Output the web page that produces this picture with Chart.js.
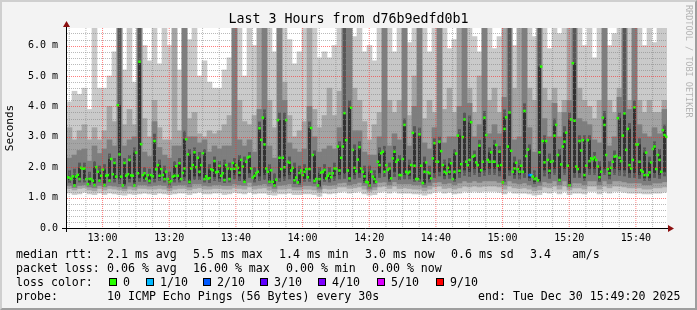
<!DOCTYPE html>
<html lang="en">
<head>
<meta charset="UTF-8">
<title>Last 3 Hours from d76b9edfd0b1</title>
<script src="https://cdn.jsdelivr.net/npm/chart.js@4.4.1/dist/chart.umd.min.js"></script>
<style>
  body { margin: 0; background: #f3f3f3; }
  #frame { position: relative; width: 697px; height: 310px; background: #f3f3f3; overflow: hidden;
           font-family: 'DejaVu Sans Mono', monospace; color: #000; }
  #frame::after { content: ''; position: absolute; left: 0; top: 0; right: 0; bottom: 0; pointer-events: none;
           border-top: 2px solid #cfcfcf; border-left: 2px solid #cfcfcf;
           border-right: 2px solid #9e9e9e; border-bottom: 2px solid #9e9e9e; }
  canvas { position: absolute; left: 0; top: 0; }
  #title { position: absolute; left: 0; top: 11px; width: 697px; text-align: center; font-size: 13.3px; line-height: 16px; }
  #mark { position: absolute; left: 684px; top: 5px; writing-mode: vertical-rl; font-size: 8.5px; color: #b4b4b4; white-space: pre; }
  .t { position: absolute; white-space: pre; font-size: 11.6px; line-height: 14px; }
  .box { position: absolute; width: 6px; height: 6px; border: 1px solid #000; }
</style>
</head>
<body>
<div id="frame">
  <canvas id="smoke" width="697" height="310"></canvas>
  <div id="title">Last 3 Hours from d76b9edfd0b1</div>
  <div id="mark">RRDTOOL / TOBI OETIKER</div>

  <div class="t" style="left:16px;top:247px">median rtt:</div>
  <div class="t" style="left:107px;top:247px">2.1 ms avg</div>
  <div class="t" style="left:193px;top:247px">5.5 ms max</div>
  <div class="t" style="left:279px;top:247px">1.4 ms min</div>
  <div class="t" style="left:365px;top:247px">3.0 ms now</div>
  <div class="t" style="left:451px;top:247px">0.6 ms sd</div>
  <div class="t" style="left:530px;top:247px">3.4   am/s</div>

  <div class="t" style="left:16px;top:261px">packet loss:</div>
  <div class="t" style="left:107px;top:261px">0.06 % avg</div>
  <div class="t" style="left:193px;top:261px">16.00 % max</div>
  <div class="t" style="left:286px;top:261px">0.00 % min</div>
  <div class="t" style="left:372px;top:261px">0.00 % now</div>

  <div class="t" style="left:16px;top:275px">loss color:</div>
  <div id="lossLegend"></div>

  <div class="t" style="left:16px;top:289px">probe:</div>
  <div class="t" style="left:107px;top:289px">10 ICMP Echo Pings (56 Bytes) every 30s</div>
  <div class="t" style="left:478px;top:289px">end: Tue Dec 30 15:49:20 2025</div>
</div>

<script>
// median rtt (ms), one value per 30 s step, 12:49:20 .. 15:49:20
const med = [
  1.67,1.65,1.61,1.7,1.4,1.69,1.75,1.61,1.98,1.95, 1.96,1.61,1.44,1.61,1.61,1.55,1.41,2.0,1.85,1.56,
  1.72,1.92,1.41,1.72,1.74,1.56,2.27,1.77,2.14,1.69, 4.04,2.42,1.69,1.4,2.14,1.72,1.77,2.24,1.73,1.72,
  1.4,2.48,1.8,5.47,2.76,1.74,1.8,1.62,1.74,1.55, 1.74,1.7,2.86,1.93,2.07,1.72,1.94,1.74,1.61,1.85,
  1.61,1.51,1.55,1.69,1.72,2.03,1.72,2.13,1.61,1.81, 1.96,2.92,2.42,1.52,1.96,2.07,2.49,2.0,2.31,1.85,
  2.07,2.46,1.61,1.7,1.62,1.64,1.93,1.9,2.2,1.83, 1.85,2.04,1.72,1.8,1.58,2.07,1.96,1.61,1.94,2.14,
  1.95,2.07,1.98,1.82,2.24,2.02,1.52,2.18,2.32,2.35, 1.96,1.66,1.72,1.8,1.85,3.28,2.9,3.63,2.75,1.96,
  1.85,1.52,1.9,1.52,1.4,1.59,3.55,2.31,1.94,2.31, 2.0,3.55,2.18,2.15,1.89,1.98,1.57,1.66,1.5,1.81,
  1.89,1.74,1.85,1.94,1.67,1.94,3.29,2.4,1.55,1.61, 1.4,1.61,1.82,1.85,1.91,1.63,1.72,1.79,1.67,1.8,
  1.96,1.96,2.68,1.89,2.31,2.68,3.78,2.89,1.89,1.63, 3.96,2.57,1.98,1.87,2.25,2.66,1.96,1.85,1.7,1.52,
  1.5,1.4,1.85,1.69,1.61,1.52,2.18,2.07,2.46,2.51, 1.85,2.07,1.91,1.96,1.63,2.29,2.51,2.18,2.24,1.74,
  1.74,2.27,3.39,1.85,1.8,1.85,2.07,3.13,2.05,1.61, 1.61,3.08,2.05,1.48,1.85,2.16,1.83,1.8,1.63,2.29,
  2.79,2.18,2.18,2.84,2.53,2.07,1.85,1.8,1.98,1.85, 2.13,1.61,1.85,2.45,3.04,1.88,2.1,2.99,3.57,2.18,
  2.07,2.24,3.48,2.35,2.38,2.16,2.07,2.71,1.9,2.18, 3.63,3.06,2.24,2.18,2.49,2.18,2.18,2.73,2.05,2.51,
  2.07,1.5,3.26,3.64,2.68,3.8,2.54,1.85,1.96,2.15, 1.94,1.85,2.05,1.85,3.85,2.37,2.58,1.74,1.74,1.69,
  1.61,1.63,1.57,2.49,5.31,2.86,2.16,2.86,2.24,1.88, 2.18,2.2,3.04,3.39,2.4,1.58,2.09,2.68,2.84,3.14,
  2.05,1.41,3.57,5.42,3.53,2.02,1.94,2.86,2.55,2.89, 1.74,2.05,2.89,2.2,2.29,2.26,2.32,2.24,2.02,1.67,
  1.85,3.63,3.39,2.4,1.94,1.8,1.98,2.18,2.35,2.37, 3.61,2.31,2.2,3.04,3.77,2.57,3.26,2.07,1.96,2.24,
  3.97,2.75,2.75,2.18,1.9,1.85,1.74,2.48,1.74,1.83, 2.16,2.6,2.68,1.94,2.4,2.24,1.85,3.22,3.06,3.0
];

// steps that lost pings, and how many of 10
const lossStep = [277, 278];
const lossLevel = [2, 1];
const lossColors = ['#26ff00', '#00b8ff', '#0059ff', '#5e00ff', '#7e00ff', '#dd00ff', '#ff0000'];
const lossLabels = ['0', '1/10', '2/10', '3/10', '4/10', '5/10', '9/10'];

// smoke: sorted ping rtt (ms) per 90 s slot, p1 = fastest ... p10 = slowest
const p1 = [
  1.15,1.1,1.12,1.18,1.12,1.1,1.15,1.1,1.15,1.12, 1.1,1.08,1.12,1.1,1.12,1.15,1.12,1.1,1.15,1.12,
  1.1,1.12,1.15,1.15,1.1,1.15,1.18,1.12,1.12,1.15, 1.15,1.1,1.12,1.18,1.15,1.12,1.18,1.12,1.15,1.15,
  1.1,1.08,1.12,1.12,1.15,1.1,1.1,1.12,1.12,1.1, 1.05,1.15,1.12,1.15,1.18,1.2,1.15,1.18,1.2,1.12,
  1.08,1.1,1.18,1.2,1.15,1.2,1.15,1.15,1.15,1.12, 1.12,1.08,1.12,1.18,1.2,1.15,1.18,1.12,1.15,1.2,
  1.18,1.2,1.18,1.2,1.2,1.2,1.18,1.12,1.2,1.15, 1.15,1.15,1.12,1.08,1.1,1.18,1.15,1.2,1.12,1.2,
  1.1,1.15,1.15,1.12,1.2,1.2,1.12,1.2,1.15,1.2, 1.2,1.18,1.15,1.15,1.15,1.12,1.12,1.15,1.15,1.18
];
const p2 = [
  1.3,1.25,1.3,1.32,1.25,1.22,1.3,1.25,1.3,1.28, 1.25,1.22,1.28,1.25,1.3,1.3,1.28,1.28,1.3,1.28,
  1.22,1.28,1.3,1.3,1.25,1.3,1.32,1.28,1.28,1.3, 1.3,1.28,1.28,1.32,1.3,1.28,1.35,1.28,1.3,1.32,
  1.25,1.2,1.28,1.28,1.3,1.25,1.25,1.28,1.28,1.25, 1.18,1.3,1.28,1.3,1.35,1.35,1.3,1.32,1.35,1.28,
  1.2,1.25,1.35,1.38,1.3,1.38,1.3,1.32,1.3,1.28, 1.28,1.22,1.28,1.35,1.38,1.3,1.32,1.28,1.32,1.38,
  1.35,1.38,1.35,1.38,1.38,1.38,1.35,1.28,1.38,1.32, 1.3,1.32,1.28,1.22,1.25,1.35,1.32,1.38,1.28,1.38,
  1.25,1.32,1.32,1.28,1.38,1.38,1.28,1.38,1.32,1.38, 1.38,1.35,1.32,1.32,1.32,1.28,1.28,1.32,1.32,1.35
];
const p3 = [
  1.4,1.33,1.4,1.42,1.35,1.32,1.4,1.35,1.4,1.38, 1.35,1.3,1.38,1.35,1.42,1.42,1.38,1.4,1.42,1.4,
  1.32,1.4,1.42,1.42,1.35,1.45,1.45,1.4,1.38,1.42, 1.42,1.4,1.4,1.45,1.42,1.4,1.5,1.4,1.42,1.45,
  1.38,1.3,1.4,1.42,1.45,1.35,1.35,1.4,1.4,1.38, 1.28,1.42,1.4,1.42,1.48,1.5,1.42,1.45,1.5,1.4,
  1.28,1.35,1.5,1.52,1.42,1.52,1.45,1.45,1.45,1.42, 1.42,1.34,1.4,1.5,1.52,1.45,1.48,1.42,1.48,1.55,
  1.5,1.55,1.5,1.55,1.55,1.55,1.5,1.42,1.55,1.48, 1.45,1.48,1.42,1.35,1.4,1.52,1.48,1.55,1.42,1.55,
  1.35,1.48,1.48,1.42,1.55,1.55,1.42,1.55,1.45,1.55, 1.55,1.52,1.48,1.48,1.48,1.42,1.42,1.48,1.48,1.52
];
const p4 = [
  1.48,1.4,1.5,1.5,1.42,1.4,1.5,1.42,1.5,1.5, 1.45,1.38,1.5,1.42,1.52,1.52,1.46,1.5,1.55,1.5,
  1.4,1.5,1.5,1.55,1.45,1.58,1.58,1.5,1.48,1.55, 1.52,1.48,1.5,1.6,1.55,1.48,1.65,1.5,1.55,1.58,
  1.46,1.36,1.52,1.55,1.6,1.45,1.42,1.52,1.52,1.46, 1.34,1.52,1.5,1.55,1.6,1.62,1.52,1.6,1.65,1.48,
  1.34,1.45,1.65,1.68,1.52,1.68,1.58,1.6,1.6,1.52, 1.52,1.42,1.5,1.65,1.7,1.6,1.62,1.52,1.65,1.72,
  1.68,1.75,1.68,1.72,1.75,1.75,1.7,1.52,1.72,1.62, 1.6,1.65,1.55,1.45,1.5,1.7,1.62,1.75,1.52,1.75,
  1.42,1.65,1.65,1.55,1.75,1.75,1.52,1.75,1.6,1.75, 1.72,1.7,1.65,1.65,1.62,1.55,1.55,1.65,1.62,1.7
];
const p5 = [
  1.58,1.45,1.6,1.6,1.5,1.48,1.58,1.48,1.6,1.62, 1.6,1.45,1.62,1.5,1.65,1.6,1.52,1.62,1.65,1.58,
  1.48,1.6,1.58,1.68,1.5,1.7,1.7,1.58,1.58,1.68, 1.62,1.55,1.58,1.75,1.7,1.55,1.8,1.6,1.7,1.75,
  1.52,1.4,1.65,1.7,1.75,1.52,1.48,1.62,1.62,1.52, 1.38,1.6,1.6,1.7,1.75,1.78,1.6,1.75,1.8,1.55,
  1.38,1.5,1.8,1.8,1.6,1.85,1.7,1.75,1.72,1.6, 1.6,1.48,1.6,1.8,1.85,1.72,1.75,1.6,1.8,1.9,
  1.85,1.95,1.82,1.9,1.95,1.95,1.88,1.6,1.9,1.75, 1.75,1.8,1.65,1.52,1.55,1.9,1.78,1.95,1.58,1.95,
  1.45,1.8,1.8,1.65,1.95,1.95,1.6,1.95,1.72,1.95, 1.9,1.9,1.8,1.8,1.75,1.65,1.65,1.8,1.75,1.85
];
const p6 = [
  1.67,1.7,1.98,1.96,1.61,2.0,1.85,1.92,2.27,2.14, 4.04,2.14,2.24,2.48,5.47,1.8,1.74,2.86,2.07,1.85,
  1.61,2.03,2.13,2.92,2.42,2.49,2.31,2.46,1.93,2.2, 2.04,2.07,1.96,2.14,2.24,2.18,2.35,1.8,3.28,3.63,
  1.9,1.59,3.55,3.55,2.18,1.98,1.89,1.94,3.29,2.4, 1.82,1.91,1.79,1.96,2.68,3.78,3.96,2.57,2.66,1.85,
  1.85,1.69,2.46,2.51,1.96,2.51,2.24,3.39,2.07,3.13, 3.08,2.16,1.83,2.79,2.84,2.07,2.13,2.45,3.04,3.57,
  3.48,2.38,2.71,3.63,2.49,2.73,2.51,3.64,3.8,2.15, 2.05,3.85,2.58,1.69,5.31,2.86,2.24,3.39,2.4,3.14,
  3.57,5.42,2.86,2.89,2.89,2.32,2.02,3.63,1.98,2.37, 3.61,3.77,3.26,3.97,2.75,2.48,2.16,2.68,2.4,3.22
];
const p7 = [
  1.9,1.95,2.15,2.15,1.85,2.2,2.05,2.1,2.45,2.3, 6.6,2.3,2.4,2.65,6.6,2.0,1.95,3.1,2.25,2.05,
  1.85,2.2,2.3,3.2,2.6,2.65,2.5,2.6,2.1,2.35, 2.2,2.25,2.15,2.3,2.4,2.35,2.5,2.0,3.5,3.9,
  2.1,1.8,3.8,3.8,2.35,2.15,2.05,2.1,3.5,2.55, 2.0,2.1,2.0,2.15,2.85,6.6,4.2,2.75,2.85,2.05,
  2.05,1.9,2.65,2.7,2.15,2.7,2.4,3.6,2.25,3.35, 3.3,2.35,2.05,2.95,3.0,2.25,2.3,2.6,3.25,3.8,
  3.7,2.55,2.9,3.85,2.65,2.9,2.7,3.9,6.6,2.35, 2.25,4.1,2.75,1.9,6.6,3.05,2.45,3.6,2.6,3.35,
  3.8,6.6,3.05,3.05,3.05,2.5,2.2,3.85,2.2,2.55, 3.8,6.6,3.45,4.2,2.95,2.65,2.35,2.85,2.6,3.4
];
const p8 = [
  2.3,2.4,2.55,2.6,2.2,2.7,2.45,2.6,2.9,2.7, 6.6,2.7,2.9,3.0,6.6,2.5,2.35,3.5,2.65,2.4,
  2.3,2.7,2.7,6.6,3.0,3.0,2.8,2.9,2.5,2.7, 2.6,2.7,2.7,6.6,2.9,2.7,2.9,2.5,3.9,6.6,
  2.7,2.3,6.6,4.2,2.8,2.6,2.5,2.6,4.0,3.0, 2.5,2.6,2.7,2.6,3.3,6.6,6.6,3.2,3.2,2.5,
  2.4,2.4,3.0,6.6,2.7,3.1,2.9,6.6,2.7,4.0, 6.6,2.8,2.6,3.3,6.6,2.8,3.0,3.0,4.0,6.6,
  4.1,3.0,3.4,6.6,3.1,3.4,3.1,4.3,6.6,2.9, 3.0,6.6,3.3,2.5,6.6,3.6,3.0,4.1,3.0,3.8,
  4.2,6.6,3.6,3.5,3.4,2.9,2.8,6.6,2.7,3.0, 4.3,6.6,3.9,6.6,3.4,3.1,3.0,3.3,3.1,3.9
];
const p9 = [
  3.3,2.9,3.2,3.4,2.9,3.3,2.9,3.2,4.0,3.5, 6.6,3.4,3.9,3.4,6.6,3.6,3.0,4.2,3.3,2.9,
  2.9,6.6,3.2,6.6,3.6,3.8,3.1,3.0,3.2,3.1, 3.2,3.4,3.7,6.6,4.2,3.5,3.4,3.7,6.6,6.6,
  4.2,3.3,6.6,4.8,3.7,3.0,3.2,3.5,6.6,3.9, 3.3,3.7,4.6,3.7,4.5,6.6,6.6,4.6,4.2,3.5,
  2.9,3.4,3.8,6.6,4.2,3.8,4.2,6.6,3.7,5.0, 6.6,3.6,4.2,3.8,6.6,3.9,4.6,3.8,6.6,6.6,
  4.6,3.8,5.0,6.6,4.2,4.6,3.8,6.6,6.6,4.6, 6.6,6.6,4.6,4.2,6.6,4.6,4.2,4.6,3.8,4.2,
  6.6,6.6,4.6,4.2,4.0,3.6,4.2,6.6,4.2,3.8, 4.6,6.6,4.2,6.6,4.2,3.8,4.2,3.8,3.8,4.2
];
const p10 = [
  4.15,4.5,4.4,4.6,3.9,6.6,4.6,4.6,5.0,5.8, 6.6,5.2,6.6,4.8,6.6,6.0,5.5,6.6,5.4,6.6,
  6.0,6.6,5.2,6.6,6.2,6.6,5.0,5.5,4.8,4.6, 4.6,5.2,5.6,6.6,6.6,5.0,6.6,6.0,6.6,6.6,
  6.6,5.8,6.6,6.6,6.2,5.4,5.8,6.6,6.6,6.6, 5.6,5.8,5.6,6.0,6.6,6.6,6.6,6.3,6.6,5.8,
  6.0,5.5,6.6,6.6,6.6,5.8,6.6,6.6,6.1,6.6, 6.6,6.6,5.8,6.6,6.6,6.6,5.9,6.2,6.6,6.6,
  6.6,6.3,5.8,6.6,6.6,5.9,6.3,6.6,6.6,6.0, 6.6,6.6,6.6,6.3,6.6,6.6,5.9,6.6,6.4,6.6,
  6.6,6.6,6.6,6.0,6.6,5.6,6.6,6.6,6.0,6.4, 6.6,6.6,6.6,6.6,6.6,6.0,6.6,6.1,6.6,6.6
];

// axis text
const xTickSec = [640, 1840, 3040, 4240, 5440, 6640, 7840, 9040, 10240]; // seconds after 12:49:20
const xTickLabels = ['13:00', '13:20', '13:40', '14:00', '14:20', '14:40', '15:00', '15:20', '15:40'];
const yTickLabels = ['0.0', '1.0 m', '2.0 m', '3.0 m', '4.0 m', '5.0 m', '6.0 m'];

// loss colour legend
const boxX = [109, 146, 203, 260, 318, 377, 436];
const legendEl = document.getElementById('lossLegend');
lossLabels.forEach((lab, i) => {
  const b = document.createElement('div');
  b.className = 'box';
  b.style.left = boxX[i] + 'px';
  b.style.top = '278px';
  b.style.background = lossColors[i];
  legendEl.appendChild(b);
  const t = document.createElement('div');
  t.className = 't';
  t.style.left = (boxX[i] + 14) + 'px';
  t.style.top = '275px';
  t.textContent = lab;
  legendEl.appendChild(t);
});

Chart.defaults.font.family = "'DejaVu Sans Mono', monospace";
Chart.defaults.color = '#000';

const greys = ['#cacaca', '#a4a4a4', '#7e7e7e', '#585858', '#323232'];
const widths = [1, 1, 1, 0.6, 0.6];
const lows = [p1, p2, p3, p4, p5];
const highs = [p10, p9, p8, p7, p6];
const slots = p1.map((_, i) => i);
const steps = med.map((_, i) => i);

const smokeSets = greys.map((c, k) => ({
  type: 'bar',
  xAxisID: 'xs',
  data: lows[k].map((v, i) => [v, highs[k][i]]),
  backgroundColor: c,
  borderWidth: 0,
  grouped: false,
  barPercentage: widths[k],
  categoryPercentage: 1,
  order: 5 - k
}));

const pointColors = med.map((_, j) => {
  const k = lossStep.indexOf(j);
  return k < 0 ? lossColors[0] : lossColors[lossLevel[k]];
});

const medianSet = {
  type: 'line',
  xAxisID: 'xm',
  data: med,
  showLine: false,
  pointStyle: 'rect',
  pointRadius: 1.8,
  pointBorderWidth: 0,
  pointBackgroundColor: pointColors,
  order: 0
};

const yGrid = [];
for (let v = 0; v <= 6.41; v += 0.2) yGrid.push(Math.round(v * 10) / 10);
const xGrid = [];
for (let s = 40; s < 10800; s += 300) xGrid.push(s);

const isMajorY = v => Math.abs(v - Math.round(v)) < 1e-6;
const isMajorX = s => (s - 640) % 1200 === 0;
const MINOR = 'rgba(130,130,130,0.55)';
const MAJOR = 'rgba(255,40,40,0.6)';

// rrdtool look: white plot, dotted grid over the smoke, black axes with red arrows
const rrdPlugin = {
  id: 'rrdLook',
  beforeDraw(chart) {
    const a = chart.chartArea, ctx = chart.ctx;
    ctx.save();
    ctx.fillStyle = '#fff';
    ctx.fillRect(a.left, a.top, a.right - a.left, a.bottom - a.top);
    ctx.restore();
  },
  afterDatasetsDraw(chart) {
    const a = chart.chartArea, ctx = chart.ctx;
    const xs = chart.scales.tx, ys = chart.scales.y;
    const top = Math.round(a.top), bottom = Math.round(a.bottom);
    const left = Math.round(a.left), right = Math.round(a.right);
    ctx.save();
    xGrid.forEach(s => {
      const x = xs.getPixelForValue(s) - 0.5;
      ctx.fillStyle = isMajorX(s) ? MAJOR : MINOR;
      for (let y = top; y < bottom; y += 2) ctx.fillRect(x, y, 1, 1);
    });
    yGrid.forEach(v => {
      if (v === 0) return;
      const y = Math.round(ys.getPixelForValue(v));
      ctx.fillStyle = isMajorY(v) ? MAJOR : MINOR;
      for (let x = left; x < right; x += 2) ctx.fillRect(x, y, 1, 1);
    });
    ctx.restore();
  },
  afterDraw(chart) {
    const a = chart.chartArea, ctx = chart.ctx;
    ctx.save();
    ctx.strokeStyle = '#000';
    ctx.lineWidth = 1;
    ctx.beginPath();
    ctx.moveTo(a.left - 5, a.bottom + 0.5);
    ctx.lineTo(a.right + 2, a.bottom + 0.5);
    ctx.moveTo(a.left - 0.5, a.bottom + 4);
    ctx.lineTo(a.left - 0.5, a.top - 2);
    ctx.stroke();
    ctx.fillStyle = '#8c1010';
    ctx.beginPath();
    ctx.moveTo(a.right + 1, a.bottom - 3);
    ctx.lineTo(a.right + 7, a.bottom + 0.5);
    ctx.lineTo(a.right + 1, a.bottom + 4);
    ctx.closePath();
    ctx.fill();
    ctx.beginPath();
    ctx.moveTo(a.left - 4, a.top - 1);
    ctx.lineTo(a.left - 0.5, a.top - 7);
    ctx.lineTo(a.left + 3, a.top - 1);
    ctx.closePath();
    ctx.fill();
    ctx.restore();
  }
};

new Chart(document.getElementById('smoke'), {
  type: 'bar',
  data: { labels: slots, datasets: [medianSet].concat(smokeSets) },
  options: {
    responsive: false,
    animation: false,
    devicePixelRatio: 1,
    layout: { padding: { left: 0, top: 28, right: 30, bottom: 62 } },
    plugins: { legend: { display: false }, tooltip: { enabled: false }, title: { display: false } },
    scales: {
      xs: { type: 'category', labels: slots, display: false, offset: true, grid: { display: false } },
      xm: { type: 'category', labels: steps, display: false, offset: true, grid: { display: false } },
      tx: {
        type: 'linear', position: 'bottom', min: 0, max: 10800, offset: false, bounds: 'data',
        afterBuildTicks: s => { s.ticks = xGrid.map(v => ({ value: v })); },
        afterFit: s => { s.height = 20; },
        ticks: {
          autoSkip: false, maxRotation: 0, padding: 4, font: { size: 10 }, color: '#000',
          callback: v => { const k = xTickSec.indexOf(v); return k < 0 ? '' : xTickLabels[k]; }
        },
        grid: { display: false, drawTicks: false },
        border: { display: false }
      },
      y: {
        type: 'linear', min: 0, max: 6.58,
        afterBuildTicks: s => { s.ticks = yGrid.map(v => ({ value: v })); },
        afterFit: s => { s.width = 67; },
        title: { display: true, text: 'Seconds', font: { size: 11 }, color: '#000', padding: { top: 4, bottom: 0 } },
        ticks: {
          autoSkip: false, padding: 9, font: { size: 10 }, color: '#000',
          callback: v => isMajorY(v) ? yTickLabels[Math.round(v)] : ''
        },
        grid: { display: false, drawTicks: false },
        border: { display: false }
      }
    }
  },
  plugins: [rrdPlugin]
});
</script>
</body>
</html>
